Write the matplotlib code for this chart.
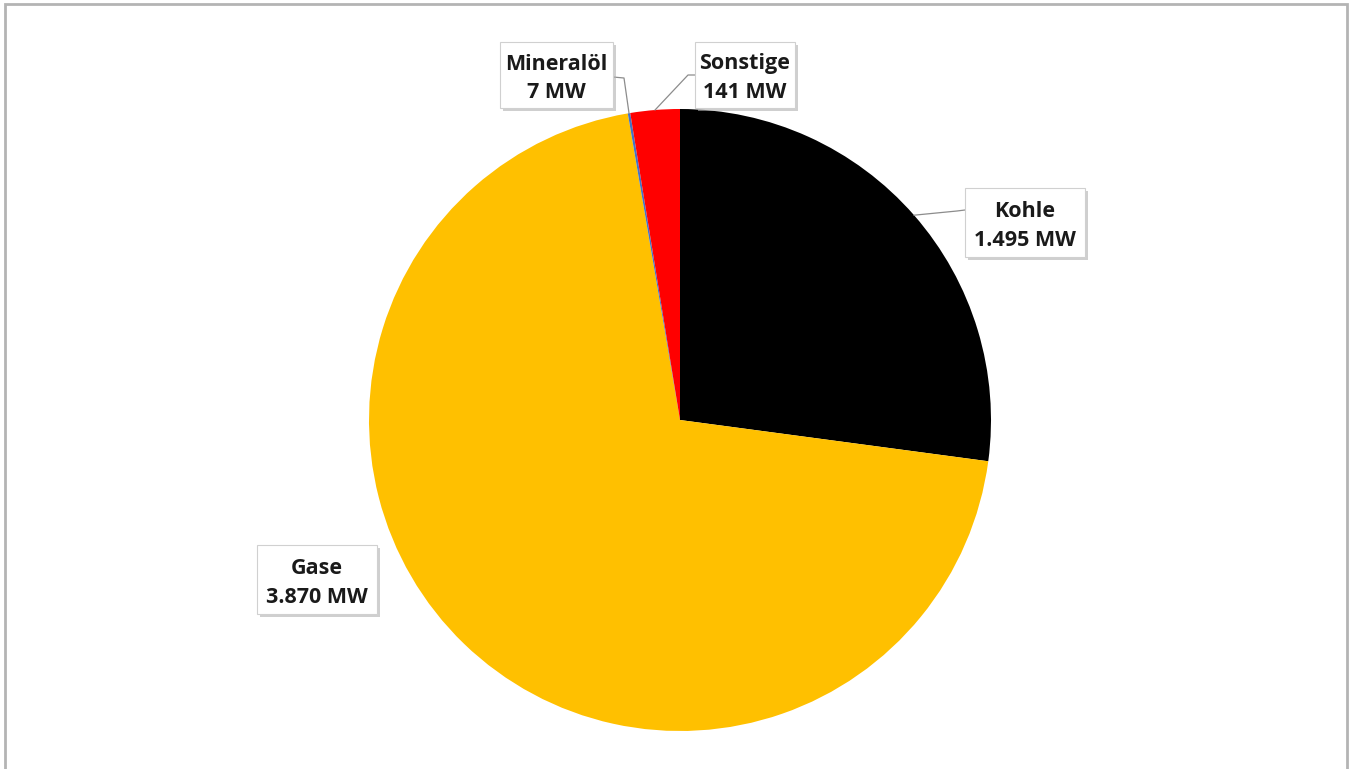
import matplotlib
matplotlib.use("Agg")
import matplotlib.pyplot as plt
from matplotlib.patches import Rectangle
import numpy as np

# installed capacity by energy source
labels = ["Kohle", "Gase", "Mineralöl", "Sonstige"]
values = [1495, 3870, 7, 141]
value_text = ["1.495 MW", "3.870 MW", "7 MW", "141 MW"]
colors = ["#000000", "#FFC000", "#4472C4", "#FF0000"]

W, H = 1352, 769
fig = plt.figure(figsize=(W / 100, H / 100), dpi=100)
ax = fig.add_axes([0, 0, 1, 1])

cx, cy, r = 680, H - 420, 311
wedges, _ = ax.pie(values, colors=colors, startangle=90, counterclock=False,
                   center=(cx, cy), radius=r, frame=True,
                   wedgeprops=dict(linewidth=0))
ax.set_xlim(0, W)
ax.set_ylim(0, H)
ax.set_aspect("equal")
ax.axis("off")

# label boxes: (left, top, width, height) in pixels, plus leader elbow
boxes = {
    "Kohle": (965, 188, 120, 69),
    "Gase": (257, 545, 120, 69),
    "Mineralöl": (500, 42, 113, 66),
    "Sonstige": (695, 42, 100, 66),
}
elbows = {
    "Kohle": [(965, 210), (957, 211)],
    "Mineralöl": [(613, 77), (624, 78)],
    "Sonstige": [(695, 75), (688, 75)],
}

for i, name in enumerate(labels):
    w = wedges[i]
    mid = np.deg2rad((w.theta1 + w.theta2) / 2)
    px, py = cx + r * np.cos(mid), cy + r * np.sin(mid)
    if name in elbows:
        pts = [(x, H - y) for x, y in elbows[name]] + [(px, py)]
        xs, ys = zip(*pts)
        ax.plot(xs, ys, color="#8c8c8c", lw=0.9, zorder=3)
    left, top, bw, bh = boxes[name]
    ax.add_patch(Rectangle((left + 3, H - top - bh - 3), bw, bh,
                           facecolor="#b0b0b0", edgecolor="none", alpha=0.6, zorder=4))
    ax.add_patch(Rectangle((left, H - top - bh), bw, bh,
                           facecolor="white", edgecolor="#d0d0d0", lw=0.8, zorder=5))
    ax.text(left + bw / 2, H - top - bh / 2 - 3.5, f"{name}\n{value_text[i]}",
            ha="center", va="center", fontsize=15.5, fontweight="bold",
            family="Open Sans", color="#1a1a1a", linespacing=1.5, zorder=6)

# outer chart border
fig.patches.append(Rectangle((5 / W, -0.01), (1347 - 5) / W, 1 - 4 / H + 0.01,
                             transform=fig.transFigure, fill=False,
                             edgecolor="#b4b4b4", lw=2))

fig.savefig("out.png", dpi=100)
